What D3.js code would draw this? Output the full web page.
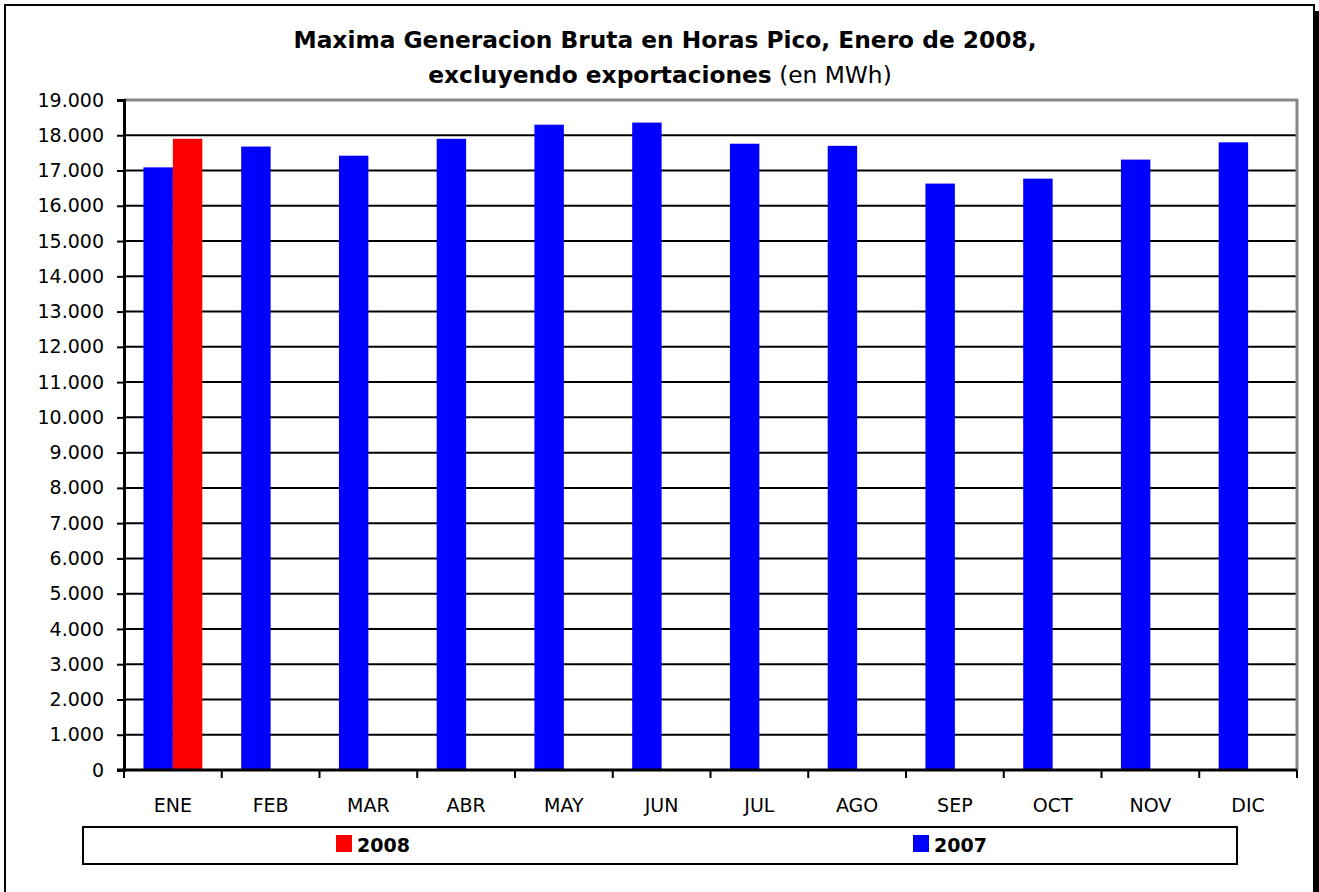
<!DOCTYPE html>
<html>
<head>
<meta charset="utf-8">
<script src="https://cdn.jsdelivr.net/npm/d3@7/dist/d3.min.js"></script>
<style>
  body { margin: 0; background: #fff; }
  svg { display: block; font-family: 'DejaVu Sans', Verdana, sans-serif; }
</style>
</head>
<body>
<svg id="chart"></svg>
<script>
(function () {
  'use strict';

  const months = ['ENE', 'FEB', 'MAR', 'ABR', 'MAY', 'JUN', 'JUL', 'AGO', 'SEP', 'OCT', 'NOV', 'DIC'];
  const values2007 = [17090, 17680, 17420, 17900, 18300, 18360, 17760, 17700, 16630, 16770, 17310, 17800];
  const values2008 = [17900]; // only january so far
  const seriesNames = ['2007', '2008'];
  const legendOrder = ['2008', '2007'];
  const yTicks = d3.range(0, 19001, 1000);

  const colors = { '2007': '#0000ff', '2008': '#ff0000' };

  const width = 1319;
  const height = 892;
  const margin = { top: 100, left: 124, bottom: 122, right: 22 };

  const svg = d3.select('#chart')
    .attr('width', width)
    .attr('height', height);

  // outer frame + shadow on the right
  svg.append('rect')
    .attr('x', 1314).attr('y', 11)
    .attr('width', 5).attr('height', height)
    .attr('fill', '#000');
  svg.append('rect')
    .attr('x', 5).attr('y', 5)
    .attr('width', 1309).attr('height', height + 20)
    .attr('fill', '#fff')
    .attr('stroke', '#000')
    .attr('stroke-width', 2);

  // title
  const title = svg.append('text')
    .attr('text-anchor', 'middle')
    .attr('font-size', 23.3)
    .attr('font-weight', 'bold');
  title.append('tspan').attr('x', 665).attr('y', 48)
    .text('Maxima Generacion Bruta en Horas Pico, Enero de 2008,');
  const t2 = title.append('tspan').attr('x', 660).attr('y', 83);
  t2.append('tspan').text('excluyendo exportaciones');
  t2.append('tspan').attr('font-weight', 'normal').text(' (en MWh)');

  const x0 = d3.scaleBand()
    .domain(months)
    .range([margin.left, width - margin.right])
    .padding(0);

  const x1 = d3.scaleBand()
    .domain(seriesNames)
    .range([0, x0.bandwidth()])
    .paddingInner(0)
    .paddingOuter(0.66);

  const y = d3.scaleLinear()
    .domain([0, 19000])
    .range([height - margin.bottom, margin.top]);

  // gridlines
  svg.append('g')
    .selectAll('line')
    .data(yTicks.filter(d => d > 0 && d < 19000))
    .enter()
    .append('line')
      .attr('x1', margin.left)
      .attr('x2', width - margin.right)
      .attr('y1', d => y(d))
      .attr('y2', d => y(d))
      .attr('stroke', '#000')
      .attr('stroke-width', 2);

  // plot area border (top / right are gray)
  svg.append('path')
    .attr('d', `M${margin.left},${y(19000)}H${width - margin.right}V${y(0)}`)
    .attr('fill', 'none')
    .attr('stroke', '#888')
    .attr('stroke-width', 3);

  // bars
  const bars = [];
  months.forEach((m, i) => {
    if (values2007[i] != null) bars.push({ month: m, series: '2007', value: values2007[i] });
    if (values2008[i] != null) bars.push({ month: m, series: '2008', value: values2008[i] });
  });

  svg.append('g')
    .selectAll('rect')
    .data(bars)
    .enter()
    .append('rect')
      .attr('x', d => x0(d.month) + x1(d.series))
      .attr('y', d => y(d.value))
      .attr('width', x1.bandwidth())
      .attr('height', d => y(0) - y(d.value))
      .attr('fill', d => colors[d.series]);

  // y axis
  const yAxis = svg.append('g')
    .attr('transform', `translate(${margin.left},0)`)
    .call(d3.axisLeft(y)
      .tickValues(yTicks)
      .tickSize(7)
      .tickPadding(13)
      .tickFormat(d => d3.format(',')(d).replace(/,/g, '.')));
  yAxis.select('.domain').attr('stroke-width', 3);
  yAxis.selectAll('.tick line').attr('stroke-width', 2);
  yAxis.selectAll('text')
    .attr('font-size', 19)
    .attr('font-family', "'DejaVu Sans', sans-serif")
    .attr('fill', '#000');

  // x axis: ticks on band edges
  const xAxis = svg.append('g')
    .attr('transform', `translate(0,${y(0)})`);
  xAxis.append('line')
    .attr('x1', margin.left - 7)
    .attr('x2', width - margin.right)
    .attr('stroke', '#000')
    .attr('stroke-width', 3);
  const edges = months.map(m => x0(m)).concat([x0.range()[1]]);
  xAxis.selectAll('.xtick')
    .data(edges)
    .enter()
    .append('line')
      .attr('class', 'xtick')
      .attr('x1', d => d).attr('x2', d => d)
      .attr('y1', 0).attr('y2', 8)
      .attr('stroke', '#000')
      .attr('stroke-width', 2);
  xAxis.selectAll('.xlabel')
    .data(months)
    .enter()
    .append('text')
      .attr('class', 'xlabel')
      .attr('x', d => x0(d) + x0.bandwidth() / 2)
      .attr('y', 42)
      .attr('text-anchor', 'middle')
      .attr('font-size', 19)
      .text(d => d);

  // legend
  const legend = { x: 83, y: 827, w: 1154, h: 37 };
  svg.append('rect')
    .attr('x', legend.x).attr('y', legend.y)
    .attr('width', legend.w).attr('height', legend.h)
    .attr('fill', '#fff')
    .attr('stroke', '#000')
    .attr('stroke-width', 2);

  const lx = d3.scaleBand()
    .domain(legendOrder)
    .range([legend.x, legend.x + legend.w]);

  const items = svg.append('g')
    .selectAll('g')
    .data(legendOrder)
    .enter()
    .append('g')
      .attr('transform', d => `translate(${lx(d) + 253},${legend.y})`);
  items.append('rect')
    .attr('x', 0).attr('y', 8)
    .attr('width', 16).attr('height', 17)
    .attr('fill', d => colors[d]);
  items.append('text')
    .attr('x', 21).attr('y', 25)
    .attr('font-size', 19)
    .attr('font-weight', 'bold')
    .text(d => d);
}());
</script>
</body>
</html>
